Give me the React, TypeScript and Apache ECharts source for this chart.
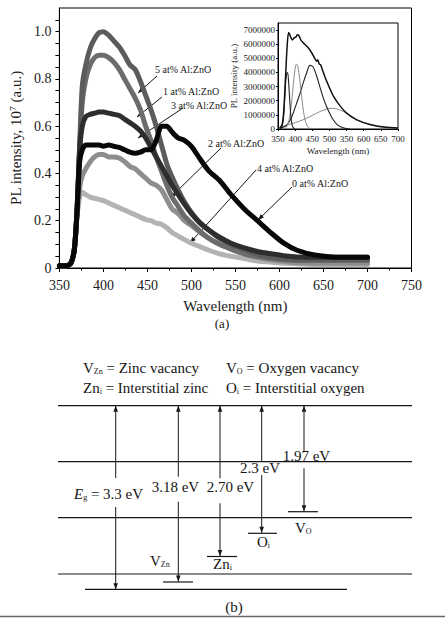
import React, { useEffect, useRef } from "react";
import * as echarts from "echarts";

const F = '"Liberation Serif", "Times New Roman", Times, serif';

// ---- Main PL spectra (intensity in 10^7 a.u.) ----
const WAVELENGTHS = [350, 358, 363, 367, 370, 373, 376, 380, 385, 390, 395, 400, 406, 412, 418, 424, 430, 436, 442, 448, 454, 460, 466, 472, 478, 485, 492, 500, 510, 520, 532, 545, 560, 575, 590, 605, 620, 640, 660, 680, 700];
const AT0 = [0.01, 0.01, 0.02, 0.08, 0.22, 0.3, 0.32, 0.31, 0.3, 0.295, 0.29, 0.285, 0.275, 0.265, 0.255, 0.245, 0.235, 0.225, 0.215, 0.205, 0.2, 0.19, 0.185, 0.17, 0.15, 0.135, 0.12, 0.105, 0.09, 0.075, 0.06, 0.05, 0.04, 0.03, 0.025, 0.02, 0.018, 0.015, 0.015, 0.015, 0.015];
const AT1 = [0.01, 0.01, 0.02, 0.08, 0.24, 0.5, 0.7, 0.8, 0.86, 0.89, 0.9, 0.9, 0.89, 0.87, 0.84, 0.8, 0.76, 0.72, 0.67, 0.6, 0.54, 0.47, 0.41, 0.35, 0.3, 0.26, 0.22, 0.19, 0.155, 0.125, 0.1, 0.08, 0.06, 0.048, 0.04, 0.035, 0.032, 0.032, 0.032, 0.032, 0.032];
const AT2 = [0.01, 0.01, 0.02, 0.08, 0.24, 0.45, 0.5, 0.52, 0.52, 0.52, 0.52, 0.515, 0.52, 0.515, 0.51, 0.5, 0.49, 0.485, 0.49, 0.5, 0.5, 0.54, 0.6, 0.6, 0.575, 0.55, 0.54, 0.515, 0.46, 0.41, 0.37, 0.31, 0.25, 0.2, 0.15, 0.105, 0.075, 0.055, 0.047, 0.045, 0.045];
const AT3 = [0.01, 0.01, 0.02, 0.08, 0.24, 0.5, 0.6, 0.64, 0.65, 0.655, 0.66, 0.66, 0.655, 0.65, 0.645, 0.63, 0.615, 0.6, 0.58, 0.55, 0.51, 0.47, 0.43, 0.39, 0.35, 0.31, 0.27, 0.23, 0.19, 0.16, 0.13, 0.105, 0.085, 0.07, 0.06, 0.052, 0.047, 0.045, 0.045, 0.045, 0.045];
const AT4 = [0.01, 0.01, 0.02, 0.08, 0.22, 0.34, 0.39, 0.42, 0.45, 0.47, 0.48, 0.48, 0.47, 0.47, 0.465, 0.45, 0.43, 0.42, 0.4, 0.38, 0.36, 0.35, 0.33, 0.29, 0.25, 0.23, 0.2, 0.18, 0.15, 0.125, 0.1, 0.08, 0.06, 0.045, 0.035, 0.028, 0.022, 0.02, 0.02, 0.02, 0.02];
const AT5 = [0.01, 0.01, 0.02, 0.08, 0.24, 0.52, 0.77, 0.86, 0.93, 0.97, 0.995, 1.0, 0.985, 0.96, 0.935, 0.9, 0.86, 0.84, 0.79, 0.73, 0.67, 0.6, 0.52, 0.44, 0.385, 0.33, 0.28, 0.235, 0.19, 0.16, 0.125, 0.1, 0.078, 0.058, 0.045, 0.038, 0.035, 0.035, 0.035, 0.035, 0.035];

const SERIES_NAMES = ["0 at% Al:ZnO", "4 at% Al:ZnO", "1 at% Al:ZnO", "5 at% Al:ZnO", "3 at% Al:ZnO", "2 at% Al:ZnO"];
const SERIES_VALUES = [AT0, AT4, AT1, AT5, AT3, AT2];
const SERIES_COLORS = ["#b3b3b3", "#8e8e8e", "#6c6c6c", "#5c5c5c", "#2e2e2e", "#080808"];

// ---- Inset (deconvolution, values in 10^6 a.u.) ----
const INSET_TOTAL_WL = [355, 362, 367, 372, 377, 381, 384, 387, 392, 397, 402, 406, 411, 418, 428, 440, 449, 458, 463, 466, 470, 474, 478, 487, 497, 512, 532, 551, 580, 621, 660, 700];
const INSET_TOTAL = [0.07, 0.3, 1.35, 3.7, 6.0, 6.83, 6.7, 6.5, 6.3, 6.45, 6.5, 6.66, 6.6, 6.25, 6.0, 5.7, 5.36, 4.96, 4.8, 4.9, 4.6, 4.55, 4.3, 3.68, 3.1, 2.3, 1.6, 1.1, 0.65, 0.3, 0.14, 0.07];
const G1_WL = [356, 362, 366, 369, 372, 375, 378, 381, 384, 388, 392, 398];
const G1 = [0, 0.2, 0.8, 1.9, 3.2, 3.9, 4.0, 3.3, 2.1, 0.8, 0.2, 0];
const G2_WL = [370, 378, 385, 390, 395, 400, 404, 408, 413, 418, 424, 430, 437, 445];
const G2 = [0, 0.3, 1.0, 2.0, 3.2, 4.3, 4.6, 4.4, 3.6, 2.5, 1.3, 0.55, 0.15, 0];
const G3_WL = [355, 365, 375, 385, 394, 404, 414, 424, 434, 443, 452, 462, 472, 482, 492, 502, 511, 521, 531, 545, 560];
const G3 = [0.05, 0.12, 0.28, 0.6, 1.1, 1.8, 2.5, 3.3, 4.0, 4.5, 4.4, 3.8, 3.0, 2.2, 1.58, 1.05, 0.65, 0.35, 0.18, 0.05, 0];
const G4_WL = [352, 380, 400, 423, 445, 472, 490, 506, 522, 541, 560, 580, 600, 619, 640, 658, 680, 700];
const G4 = [0.1, 0.3, 0.45, 0.65, 0.9, 1.23, 1.4, 1.47, 1.42, 1.23, 0.95, 0.65, 0.45, 0.3, 0.18, 0.12, 0.07, 0.05];
const INSET_X_LABELS = ["350", "400", "450", "500", "350", "600", "650", "700"];

// ---- Energy diagram texts ----
const LEGEND_TEXTS = ["V{s|Zn} = Zinc vacancy", "V{s|O} = Oxygen vacancy", "Zn{s|i} = Interstitial zinc", "O{s|i} = Interstitial oxygen"];
const TRANSITION_LABELS = ["{i|E}{s|g} = 3.3 eV", "3.18 eV", "2.70 eV", "2.3 eV", "1.97 eV"];
const DEFECT_LABELS = ["V{s|Zn}", "Zn{s|i}", "O{s|i}", "V{s|O}"];

const INK = "#161616";

function arrowHead(x1: number, y1: number, x2: number, y2: number, len = 6, hw = 2.3) {
  const dx = x2 - x1, dy = y2 - y1;
  const L = Math.hypot(dx, dy);
  const ux = dx / L, uy = dy / L;
  const bx = x2 - ux * len, by = y2 - uy * len;
  return {
    type: "polygon",
    shape: { points: [[x2, y2], [bx - uy * hw, by + ux * hw], [bx + uy * hw, by - ux * hw]] },
    style: { fill: INK },
    silent: true,
  };
}
function seg(x1: number, y1: number, x2: number, y2: number, w = 1) {
  return { type: "line", shape: { x1, y1, x2, y2 }, style: { stroke: INK, lineWidth: w }, silent: true };
}
function arrow(x1: number, y1: number, x2: number, y2: number) {
  return [seg(x1, y1, x2, y2), arrowHead(x1, y1, x2, y2)];
}
const RICH = {
  s: { fontSize: 8, fontFamily: F, verticalAlign: "bottom", fill: INK },
  i: { fontSize: 15, fontFamily: F, fontStyle: "italic", fill: INK },
};
function txt(x: number, y: number, text: string, size = 15, align = "left") {
  return {
    type: "text",
    x,
    y,
    silent: true,
    style: { text, fontFamily: F, fontSize: size, fill: INK, align, verticalAlign: "middle", rich: RICH },
  };
}

function buildGraphic() {
  const g: any[] = [];
  // annotations in panel (a)
  const ann = [
    { t: "5 at% Al:ZnO", tx: 155, ty: 69, a: [157, 76, 138, 93] },
    { t: "1 at% Al:ZnO", tx: 163, ty: 91, a: [162, 97, 137, 117] },
    { t: "3 at% Al:ZnO", tx: 171, ty: 105, a: [183, 108, 138, 138] },
    { t: "2 at% Al:ZnO", tx: 208, ty: 143, a: [221, 148, 170, 198] },
    { t: "4 at% Al:ZnO", tx: 257, ty: 168, a: [256, 170, 190, 243] },
    { t: "0 at% Al:ZnO", tx: 292, ty: 183, a: [292, 187, 258, 220] },
  ];
  ann.forEach((a) => {
    g.push(txt(a.tx, a.ty, a.t, 10));
    g.push(...arrow(a.a[0], a.a[1], a.a[2], a.a[3]));
  });
  g.push(txt(222, 323, "(a)", 13, "center"));

  // panel (b): legend
  g.push(txt(83, 368, LEGEND_TEXTS[0]));
  g.push(txt(226, 368, LEGEND_TEXTS[1]));
  g.push(txt(83, 388, LEGEND_TEXTS[2]));
  g.push(txt(226, 388, LEGEND_TEXTS[3]));

  // band lines
  [405.7, 461.7, 517.7, 574].forEach((y) => g.push(seg(58, y, 412, y, 1.2)));
  g.push(seg(85, 589.3, 347, 589.3, 1.2));
  // defect levels
  g.push(seg(163, 582, 193, 582, 1.2));
  g.push(seg(207, 556.5, 237, 556.5, 1.2));
  g.push(seg(248, 533.3, 277, 533.3, 1.2));
  g.push(seg(288, 511.7, 318, 511.7, 1.2));

  // transitions
  const tr = [
    { x: 115.7, g1: 478, g2: 507, end: 589.3 },
    { x: 178.3, g1: 476.7, g2: 501.7, end: 581.5 },
    { x: 220, g1: 478.3, g2: 503.3, end: 556 },
    { x: 261.7, g1: 461.7, g2: 475, end: 532.8 },
    { x: 304, g1: 451.7, g2: 468.3, end: 511.2 },
  ];
  tr.forEach((t) => {
    g.push(...arrow(t.x, t.g1, t.x, 405.7));
    g.push(...arrow(t.x, t.g2, t.x, t.end));
  });
  g.push(txt(74, 494, TRANSITION_LABELS[0]));
  g.push(txt(151.7, 486.7, TRANSITION_LABELS[1]));
  g.push(txt(206.7, 486.7, TRANSITION_LABELS[2]));
  g.push(txt(240, 468.3, TRANSITION_LABELS[3]));
  g.push(txt(282.7, 456, TRANSITION_LABELS[4]));

  g.push(txt(150, 560.7, DEFECT_LABELS[0]));
  g.push(txt(213, 564, DEFECT_LABELS[1]));
  g.push(txt(257, 542.3, DEFECT_LABELS[2]));
  g.push(txt(295, 528.3, DEFECT_LABELS[3]));
  g.push(txt(234, 606.7, "(b)", 15, "center"));
  g.push({ type: "line", shape: { x1: 0, y1: 616.5, x2: 445, y2: 616.5 }, style: { stroke: "#666", lineWidth: 1.5 }, silent: true });
  return g;
}

function App() {
  const ref = useRef<HTMLDivElement>(null);
  useEffect(() => {
    if (!ref.current) return;
    const chart = echarts.init(ref.current, null, { renderer: "svg" });
    const mainSeries = SERIES_NAMES.map((name, k) => ({
      name,
      type: "line",
      xAxisIndex: 0,
      yAxisIndex: 0,
      data: WAVELENGTHS.map((w, i) => [w, SERIES_VALUES[k][i]]),
      symbol: "none",
      smooth: 0.25,
      lineStyle: { color: SERIES_COLORS[k], width: 5, cap: "round", join: "round" },
      z: 2 + k,
    }));
    const insetSeries = [
      { wl: G4_WL, v: G4, c: "#8a8a8a", w: 1 },
      { wl: G3_WL, v: G3, c: "#222", w: 1.1 },
      { wl: G2_WL, v: G2, c: "#8a8a8a", w: 1 },
      { wl: G1_WL, v: G1, c: "#222", w: 1.1 },
      { wl: INSET_TOTAL_WL, v: INSET_TOTAL, c: "#111", w: 1.5 },
    ].map((s) => ({
      type: "line",
      xAxisIndex: 1,
      yAxisIndex: 1,
      data: s.wl.map((w, i) => [w, s.v[i] * 1e6]),
      symbol: "none",
      smooth: 0.3,
      lineStyle: { color: s.c, width: s.w },
      z: 10,
    }));
    const axisText = { fontFamily: F, color: "#1a1a1a" };
    chart.setOption({
      animation: false,
      backgroundColor: "#fff",
      textStyle: { fontFamily: F },
      grid: [
        { left: 57.5, top: 8, width: 354, height: 260, show: true, borderColor: "#000", borderWidth: 1, backgroundColor: "transparent" },
        { left: 278, top: 23, width: 120, height: 106, show: true, borderColor: "#000", borderWidth: 1, backgroundColor: "#fff", z: 8 },
      ],
      xAxis: [
        {
          type: "value", gridIndex: 0, min: 350, max: 750, interval: 50,
          axisLine: { lineStyle: { color: "#000", width: 1 } },
          axisTick: { length: 4, lineStyle: { color: "#000" } },
          minorTick: { show: true, splitNumber: 2, length: 2.5, lineStyle: { color: "#000" } },
          splitLine: { show: false },
          axisLabel: { ...axisText, fontSize: 14, margin: 10 },
          name: "Wavelength (nm)", nameLocation: "middle", nameGap: 30,
          nameTextStyle: { ...axisText, fontSize: 15 },
        },
        {
          type: "value", gridIndex: 1, min: 350, max: 700, interval: 50,
          axisLine: { lineStyle: { color: "#000", width: 1 } },
          axisTick: { length: 2, lineStyle: { color: "#000" } },
          splitLine: { show: false },
          axisLabel: { ...axisText, fontSize: 9, margin: 5, formatter: (v: number) => INSET_X_LABELS[Math.round((v - 350) / 50)] ?? "" },
          name: "Wavelength (nm)", nameLocation: "middle", nameGap: 17,
          nameTextStyle: { ...axisText, fontSize: 9 },
          z: 9,
        },
      ],
      yAxis: [
        {
          type: "value", gridIndex: 0, min: 0, max: 1.1, interval: 0.05,
          axisLine: { show: true, lineStyle: { color: "#000", width: 1 } },
          axisTick: { length: 4, lineStyle: { color: "#000" } },
          splitLine: { show: false },
          axisLabel: {
            ...axisText, fontSize: 14, margin: 8, showMaxLabel: false,
            formatter: (v: number) => {
              const k = v * 5;
              if (Math.abs(k - Math.round(k)) > 1e-6) return "";
              return v === 0 ? "0" : v.toFixed(1);
            },
          },
          name: "PL intensity, 10{sup|7} (a.u.)", nameLocation: "middle", nameGap: 36,
          nameTextStyle: { ...axisText, fontSize: 15, rich: { sup: { fontFamily: F, fontSize: 9, verticalAlign: "top", color: "#1a1a1a" } } },
        },
        {
          type: "value", gridIndex: 1, min: 0, max: 7500000, interval: 1000000,
          axisLine: { show: true, lineStyle: { color: "#000", width: 1 } },
          axisTick: { length: 2, lineStyle: { color: "#000" } },
          splitLine: { show: false },
          axisLabel: { ...axisText, fontSize: 9, margin: 3, showMaxLabel: false, formatter: (v: number) => String(Math.round(v)) },
          name: "PL intensity (a.u.)", nameLocation: "middle", nameGap: 40,
          nameTextStyle: { ...axisText, fontSize: 9 },
          z: 9,
        },
      ],
      series: [...mainSeries, ...insetSeries],
      graphic: buildGraphic(),
    });
    return () => chart.dispose();
  }, []);
  return <div ref={ref} style={{ position: "absolute", left: 0, top: 0, width: 445, height: 618, background: "#fff" }} />;
}

export default App;
